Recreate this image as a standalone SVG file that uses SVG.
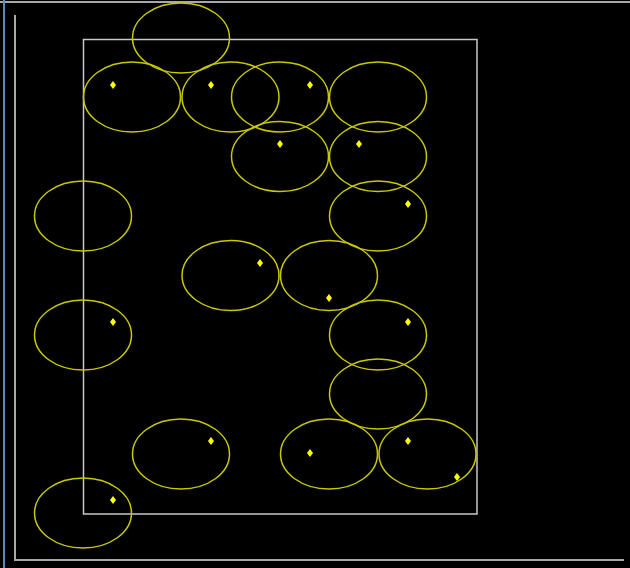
<svg xmlns="http://www.w3.org/2000/svg" width="630" height="568" viewBox="0 0 630 568">
<style>
.e{fill:none;stroke:#c8c800;stroke-width:1.5}
.d{fill:#ffff00}
.frame{fill:none;stroke:#c8c8c8;stroke-width:1.5}
.axis{fill:none;stroke:#a8a8a8;stroke-width:2}
</style>
<defs>
<polygon id="dm" points="0,-4 3,0 0,4 -3,0"/>
</defs>
<rect x="0" y="0" width="630" height="568" fill="#000"/>
<line x1="0" y1="2" x2="630" y2="2" stroke="#e0e0e0" stroke-width="1.5"/>
<line x1="4" y1="0" x2="4" y2="568" stroke="#5a8ab8" stroke-width="2"/>
<polyline class="axis" points="15,15 15,560 624,560"/>
<rect class="frame" x="83.5" y="39.5" width="393.5" height="474.5"/>
<g id="n1"><ellipse class="e" cx="181" cy="38" rx="48.5" ry="35"/></g>
<g id="n2"><ellipse class="e" cx="132" cy="97" rx="48.5" ry="35"/><use href="#dm" class="d" x="113" y="85"/></g>
<g id="n3"><ellipse class="e" cx="230.5" cy="97" rx="48.5" ry="35"/><use href="#dm" class="d" x="211" y="85"/></g>
<g id="n4"><ellipse class="e" cx="280" cy="97" rx="48.5" ry="35"/><use href="#dm" class="d" x="310" y="85"/></g>
<g id="n5"><ellipse class="e" cx="378" cy="97" rx="48.5" ry="35"/></g>
<g id="n6"><ellipse class="e" cx="280" cy="156.5" rx="48.5" ry="35"/><use href="#dm" class="d" x="280" y="144"/></g>
<g id="n7"><ellipse class="e" cx="378" cy="156.5" rx="48.5" ry="35"/><use href="#dm" class="d" x="359" y="144"/></g>
<g id="n8"><ellipse class="e" cx="83" cy="216" rx="48.5" ry="35"/></g>
<g id="n9"><ellipse class="e" cx="378" cy="216" rx="48.5" ry="35"/><use href="#dm" class="d" x="408" y="204"/></g>
<g id="n10"><ellipse class="e" cx="230.5" cy="275.5" rx="48.5" ry="35"/><use href="#dm" class="d" x="260" y="263"/></g>
<g id="n11"><ellipse class="e" cx="329" cy="275.5" rx="48.5" ry="35"/><use href="#dm" class="d" x="329" y="298"/></g>
<g id="n12"><ellipse class="e" cx="83" cy="335" rx="48.5" ry="35"/><use href="#dm" class="d" x="113" y="322"/></g>
<g id="n13"><ellipse class="e" cx="378" cy="335" rx="48.5" ry="35"/><use href="#dm" class="d" x="408" y="322"/></g>
<g id="n14"><ellipse class="e" cx="378" cy="394" rx="48.5" ry="35"/></g>
<g id="n15"><ellipse class="e" cx="181" cy="454" rx="48.5" ry="35"/><use href="#dm" class="d" x="211" y="441"/></g>
<g id="n16"><ellipse class="e" cx="329" cy="454" rx="48.5" ry="35"/><use href="#dm" class="d" x="310" y="453"/></g>
<g id="n17"><ellipse class="e" cx="427.5" cy="454" rx="48.5" ry="35"/><use href="#dm" class="d" x="408" y="441"/><use href="#dm" class="d" x="457" y="477"/></g>
<g id="n18"><ellipse class="e" cx="83" cy="513" rx="48.5" ry="35"/><use href="#dm" class="d" x="113" y="500"/></g>
</svg>
